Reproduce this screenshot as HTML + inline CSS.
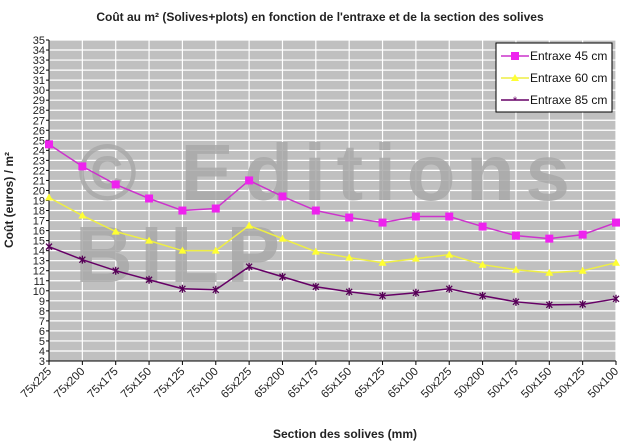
<!DOCTYPE html>
<html><head><meta charset="utf-8"><style>
body{margin:0;background:#fff;}
svg{display:block;font-family:"Liberation Sans",Arial,sans-serif;}
</style></head><body>
<svg id="chart" width="640" height="447">
<text x="320" y="21" text-anchor="middle" font-size="12" font-weight="bold" fill="#222">Coût au m² (Solives+plots) en fonction de l'entraxe et de la section des solives</text>
<rect x="49" y="40" width="567" height="321" fill="#c0c0c0"/>
<g id="grid"></g>
<g fill="#a9a9a9" font-weight="bold" opacity="0.85">
<text x="78" y="200" font-size="80" textLength="492" lengthAdjust="spacing">© Editions</text>
<text x="75" y="282" font-size="80" textLength="205" lengthAdjust="spacing">BILP</text>
</g>
<g id="axes"></g>
<g id="series"></g>
<text transform="translate(13,200) rotate(-90)" text-anchor="middle" font-size="12" font-weight="bold" fill="#222">Coût (euros) / m²</text>
<text x="345" y="438" text-anchor="middle" font-size="12" font-weight="bold" fill="#222">Section des solives (mm)</text>
<g>
<rect x="496" y="43" width="116" height="69" fill="#fff" stroke="#000" stroke-width="1"/>
<line x1="501" y1="56" x2="529" y2="56" stroke="#cc33cc" stroke-width="1.5"/><rect x="511" y="52" width="8" height="8" fill="#ee22ee"/>
<text x="530" y="60" font-size="12" fill="#111">Entraxe 45 cm</text>
<line x1="501" y1="78" x2="529" y2="78" stroke="#eeee44" stroke-width="1.5"/><polygon points="515,74 519,81 511,81" fill="#ffff33"/>
<text x="530" y="82" font-size="12" fill="#111">Entraxe 60 cm</text>
<line x1="501" y1="100" x2="529" y2="100" stroke="#660066" stroke-width="1.5"/><text x="515" y="104" font-size="11" text-anchor="middle" fill="#660066">*</text>
<text x="530" y="104" font-size="12" fill="#111">Entraxe 85 cm</text>
</g>
</svg>
<script>
const categories=["75x225","75x200","75x175","75x150","75x125","75x100","65x225","65x200","65x175","65x150","65x125","65x100","50x225","50x200","50x175","50x150","50x125","50x100"];
const entraxe45=[24.6,22.4,20.6,19.2,18.0,18.2,21.0,19.4,18.0,17.3,16.8,17.4,17.4,16.4,15.5,15.2,15.6,16.8];
const entraxe60=[19.3,17.5,15.9,15.0,14.0,14.0,16.5,15.2,13.9,13.3,12.8,13.2,13.6,12.6,12.1,11.8,12.0,12.8];
const entraxe85=[14.4,13.1,12.0,11.1,10.2,10.1,12.4,11.4,10.4,9.9,9.5,9.8,10.2,9.5,8.9,8.6,8.65,9.2];
const yMin=3,yMax=35;
const NS="http://www.w3.org/2000/svg";
const L=49,R=616,T=40,B=361;
function xs(i){return L+i*(R-L)/(categories.length-1);}
function ys(v){return B-(v-yMin)*(B-T)/(yMax-yMin);}
function mk(tag,attrs,parent){const e=document.createElementNS(NS,tag);for(const k in attrs)e.setAttribute(k,attrs[k]);parent.appendChild(e);return e;}
const grid=document.getElementById('grid'),axes=document.getElementById('axes'),ser=document.getElementById('series');
for(let v=yMin+1;v<=yMax;v++){const l=mk('line',{x1:L,x2:R,y1:ys(v),y2:ys(v),stroke:'#fff','stroke-width':1.2},grid);

}
for(let i=1;i<categories.length;i++){const l=mk('line',{x1:xs(i),x2:xs(i),y1:T,y2:B,stroke:'#fff','stroke-width':1.2},grid);

}
mk('line',{x1:L,x2:L,y1:T,y2:B,stroke:'#000'},axes);
mk('line',{x1:L,x2:R,y1:B,y2:B,stroke:'#000'},axes);
for(let v=yMin;v<=yMax;v++){mk('line',{x1:L-3,x2:L,y1:ys(v),y2:ys(v),stroke:'#000'},axes);
const t=mk('text',{x:L-4,y:ys(v)+4,'text-anchor':'end','font-size':11,fill:'#222'},axes);t.textContent=v;

}
categories.forEach((c,i)=>{mk('line',{x1:xs(i),x2:xs(i),y1:B,y2:B+4,stroke:'#000'},axes);
const t=mk('text',{x:xs(i)+3,y:B+11,'text-anchor':'end','font-size':11.5,fill:'#222',transform:`rotate(-45 ${xs(i)+3} ${B+11})`},axes);t.textContent=c;

});
function draw(data,color,mcol,type,name){
const p=mk('polyline',{points:data.map((v,i)=>xs(i)+','+ys(v)).join(' '),fill:'none',stroke:color,'stroke-width':1.5},ser);


data.forEach((v,i)=>{const x=xs(i),y=ys(v);let m;
if(type==='sq')m=mk('rect',{x:x-4,y:y-4,width:8,height:8,fill:mcol},ser);
else if(type==='tri')m=mk('polygon',{points:`${x},${y-4} ${x+4},${y+3} ${x-4},${y+3}`,fill:mcol},ser);
else m=mk('path',{d:`M${x-3},${y-3}L${x+3},${y+3}M${x+3},${y-3}L${x-3},${y+3}M${x},${y-4}L${x},${y+4}`,stroke:mcol,'stroke-width':1.3},ser);

});}
draw(entraxe45,'#cc33cc','#ee22ee','sq','entraxe-45');
draw(entraxe60,'#eeee44','#ffff33','tri','entraxe-60');
draw(entraxe85,'#660066','#550055','star','entraxe-85');
</script>
</body></html>
